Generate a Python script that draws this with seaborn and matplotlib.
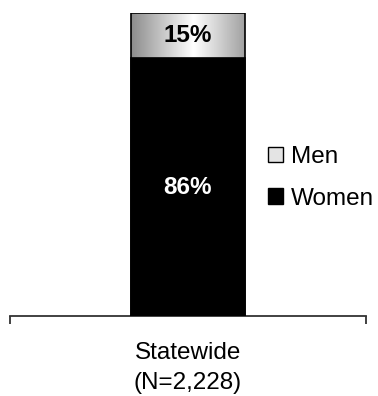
import numpy as np
import pandas as pd
import matplotlib
matplotlib.use("Agg")
import matplotlib.pyplot as plt
from matplotlib.patches import Patch
import seaborn as sns

# Gender split of the statewide sample
categories = ["Statewide\n(N=2,228)"]
women_pct = [86]
men_pct = [15]
value_labels_women = ["86%"]
value_labels_men = ["15%"]

sns.set_theme(style="white")
plt.rcParams["font.family"] = ["Liberation Sans", "DejaVu Sans"]
plt.rcParams["text.color"] = "black"
FS = 17.5

df = pd.DataFrame({
    "group": categories,
    "women": women_pct,
    "men": men_pct,
})
df["total"] = df["women"] + df["men"]

fig = plt.figure(figsize=(3.78, 3.96), dpi=100)
ax = fig.add_axes([10 / 378, 1 - 316 / 396, 356 / 378, 303 / 396])

# Full-height bar (men on top), then women drawn over it
sns.barplot(data=df, x="group", y="total", color="#d0d0d0", width=0.32,
            edgecolor="black", linewidth=1.2, ax=ax, zorder=2)
men_patch = ax.patches[0]
sns.barplot(data=df, x="group", y="women", color="black", width=0.32,
            edgecolor="black", linewidth=1.2, ax=ax, zorder=4)

# Horizontal metallic gradient for the men segment
grad_x = np.linspace(0, 1, 256)
shade = 1 - 0.45 * np.abs(grad_x - 0.55) / 0.55
shade = np.clip(shade, 0, 1)
img = np.tile(shade, (2, 1))
x0, y0 = men_patch.get_x(), men_patch.get_y()
w, h = men_patch.get_width(), men_patch.get_height()
im = ax.imshow(img, cmap="gray", vmin=0, vmax=1, aspect="auto",
               extent=(x0, x0 + w, y0, y0 + h), zorder=3, interpolation="bilinear")
im.set_clip_path(men_patch)
men_patch.set_facecolor("none")
men_patch.set_zorder(3.5)

ax.set_xlim(-0.5, 0.5)
ax.set_ylim(0, float(df["total"].max()))

# Value labels
for i, row in df.iterrows():
    ax.text(i, row["women"] / 2, value_labels_women[i], ha="center", va="center",
            color="white", fontsize=FS, fontweight="bold", zorder=6)
    ax.text(i, row["women"] + row["men"] / 2, value_labels_men[i], ha="center",
            va="center", color="black", fontsize=FS, fontweight="bold", zorder=6)

# Axis styling: only the baseline with end ticks
for side in ["left", "right", "top"]:
    ax.spines[side].set_visible(False)
ax.spines["bottom"].set_color("#333333")
ax.spines["bottom"].set_linewidth(1.3)
ax.set_yticks([])
ax.set_xlabel("")
ax.set_ylabel("")
ax.set_xticks([0])
ax.set_xticklabels(categories, fontsize=FS, color="black", linespacing=1.45)
ax.tick_params(axis="x", which="major", length=0, pad=19)
ax.set_xticks([-0.5, 0.5], minor=True)
ax.tick_params(axis="x", which="minor", length=6, width=1.3, color="#333333",
               direction="out", bottom=True)
ax.grid(False)

handles = [
    Patch(facecolor="#e4e4e4", edgecolor="black", linewidth=1.0, label="Men"),
    Patch(facecolor="black", edgecolor="black", linewidth=1.0, label="Women"),
]
leg = fig.legend(handles=handles, loc="center left",
                 bbox_to_anchor=(268 / 378, 1 - 178 / 396),
                 frameon=False, fontsize=FS, handlelength=0.6, handleheight=0.6,
                 handletextpad=0.35, labelspacing=0.8, borderpad=0, borderaxespad=0)
for t in leg.get_texts():
    t.set_color("black")

fig.savefig("out.png", dpi=100)
